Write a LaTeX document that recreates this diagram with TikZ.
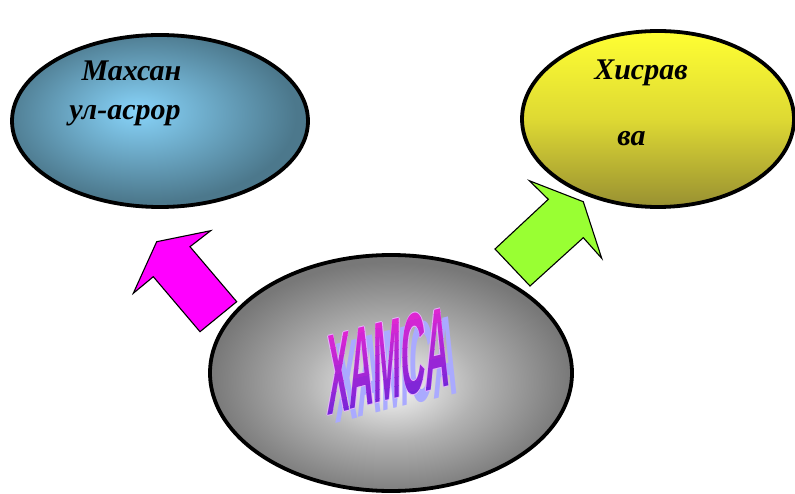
\documentclass[tikz,border=0pt]{standalone}
\usepackage{fontspec}
\setmainfont{Liberation Serif}
\newfontfamily\wordart{Liberation Sans}
\usetikzlibrary{shapes.geometric}

\definecolor{skyin}{RGB}{136,212,250}
\definecolor{skyout}{RGB}{76,120,140}
\definecolor{greyin}{RGB}{248,248,248}
\definecolor{greymid}{RGB}{178,178,178}
\definecolor{greyout}{RGB}{120,120,120}
\definecolor{sunin}{RGB}{255,255,51}
\definecolor{sunmid}{RGB}{222,217,51}
\definecolor{sunout}{RGB}{152,144,50}
\definecolor{pinkarrow}{RGB}{255,0,255}
\definecolor{limearrow}{RGB}{153,255,51}
\definecolor{hamsatop}{RGB}{116,38,216}
\definecolor{hamsabot}{RGB}{222,38,210}
\definecolor{hamsaedge}{RGB}{232,180,255}
\definecolor{hamsashade}{RGB}{170,170,255}

\pgfdeclareradialshading{skyball}{\pgfpoint{-4bp}{3bp}}{color(0bp)=(skyin); color(25bp)=(skyout); color(50bp)=(skyout)}
\pgfdeclareradialshading{greyball}{\pgfpoint{0bp}{-3bp}}{color(0bp)=(greyin); color(12bp)=(greymid); color(25bp)=(greyout); color(50bp)=(greyout)}
\pgfdeclareverticalshading{sunfall}{100bp}{color(0bp)=(sunout); color(25bp)=(sunout); color(50bp)=(sunmid); color(75bp)=(sunin); color(100bp)=(sunin)}

\begin{document}
\begin{tikzpicture}[x=1pt,y=1pt,
  oval/.style={ellipse,draw=black,line width=3.8pt,inner sep=0pt},
  title/.style={font=\bfseries\itshape\fontsize{30}{32}\selectfont,anchor=base,inner sep=0pt},
  blockarrow/.style={draw=black,line width=1.1pt,line join=miter},
  hamsaform/.style={cm={0.839,0.2056,0,2.87,(0,0)}},
  wordtext/.style={font=\wordart\bfseries\fontsize{40}{40}\selectfont,transform shape,inner sep=0pt}]
\useasboundingbox (0,0) rectangle (795,493);

% arrows
\draw [blockarrow,fill=pinkarrow] (200,161.3) -- (153.3,216.3) -- (133.3,199.7) -- (156.7,251.3)
  -- (210.7,262.3) -- (190,246.3) -- (236.7,191.3) -- cycle;
\draw [blockarrow,fill=limearrow] (495,244) -- (548.3,293.7) -- (529.3,312.3) -- (583.3,291.3)
  -- (601.7,234.7) -- (583.3,255.3) -- (530,207) -- cycle;

% ovals
\node [oval,shading=skyball,minimum width=296pt,minimum height=172pt] (mahsan) at (160,372) {};
\node [oval,shading=sunfall,minimum width=272pt,minimum height=176pt] (hisrav) at (658,374) {};
\node [oval,shading=greyball,minimum width=362pt,minimum height=236pt] (hamsa) at (391,120) {};

\node [title] (mahsan1) at (131.5,412.3) {Махсан};
\node [title] (mahsan2) at (125,373.7) {ул-асрор};
\node [title] (hisrav1) at (641,413) {Хисрав};
\node [title] (hisrav2) at (631.5,347) {ва};

% word art
\begin{scope}[shift={(396.4,124.3)},hamsaform]
  \node [wordtext,text=hamsashade] (hamsashadow) at (0,0) {ХАМСА};
\end{scope}
\begin{scope}[shift={(388.4,132.3)},hamsaform]
  \foreach \dx/\dy [count=\n] in {0.7/0,-0.7/0,0/0.35,0/-0.35}
    \node [wordtext,text=hamsaedge] (hamsaedge\n) at (\dx,\dy) {ХАМСА};
  \foreach \k in {0,...,9} {
    \pgfmathtruncatemacro{\pct}{100-\k*100/9}
    \begin{scope}
      \clip (-95,-15.5+\k*3.1) rectangle (95,-15.5+\k*3.1+3.3);
      \node [wordtext,text=hamsatop!\pct!hamsabot] (hamsaband\k) at (0,0) {ХАМСА};
    \end{scope}
  }
\end{scope}
\end{tikzpicture}
\end{document}
